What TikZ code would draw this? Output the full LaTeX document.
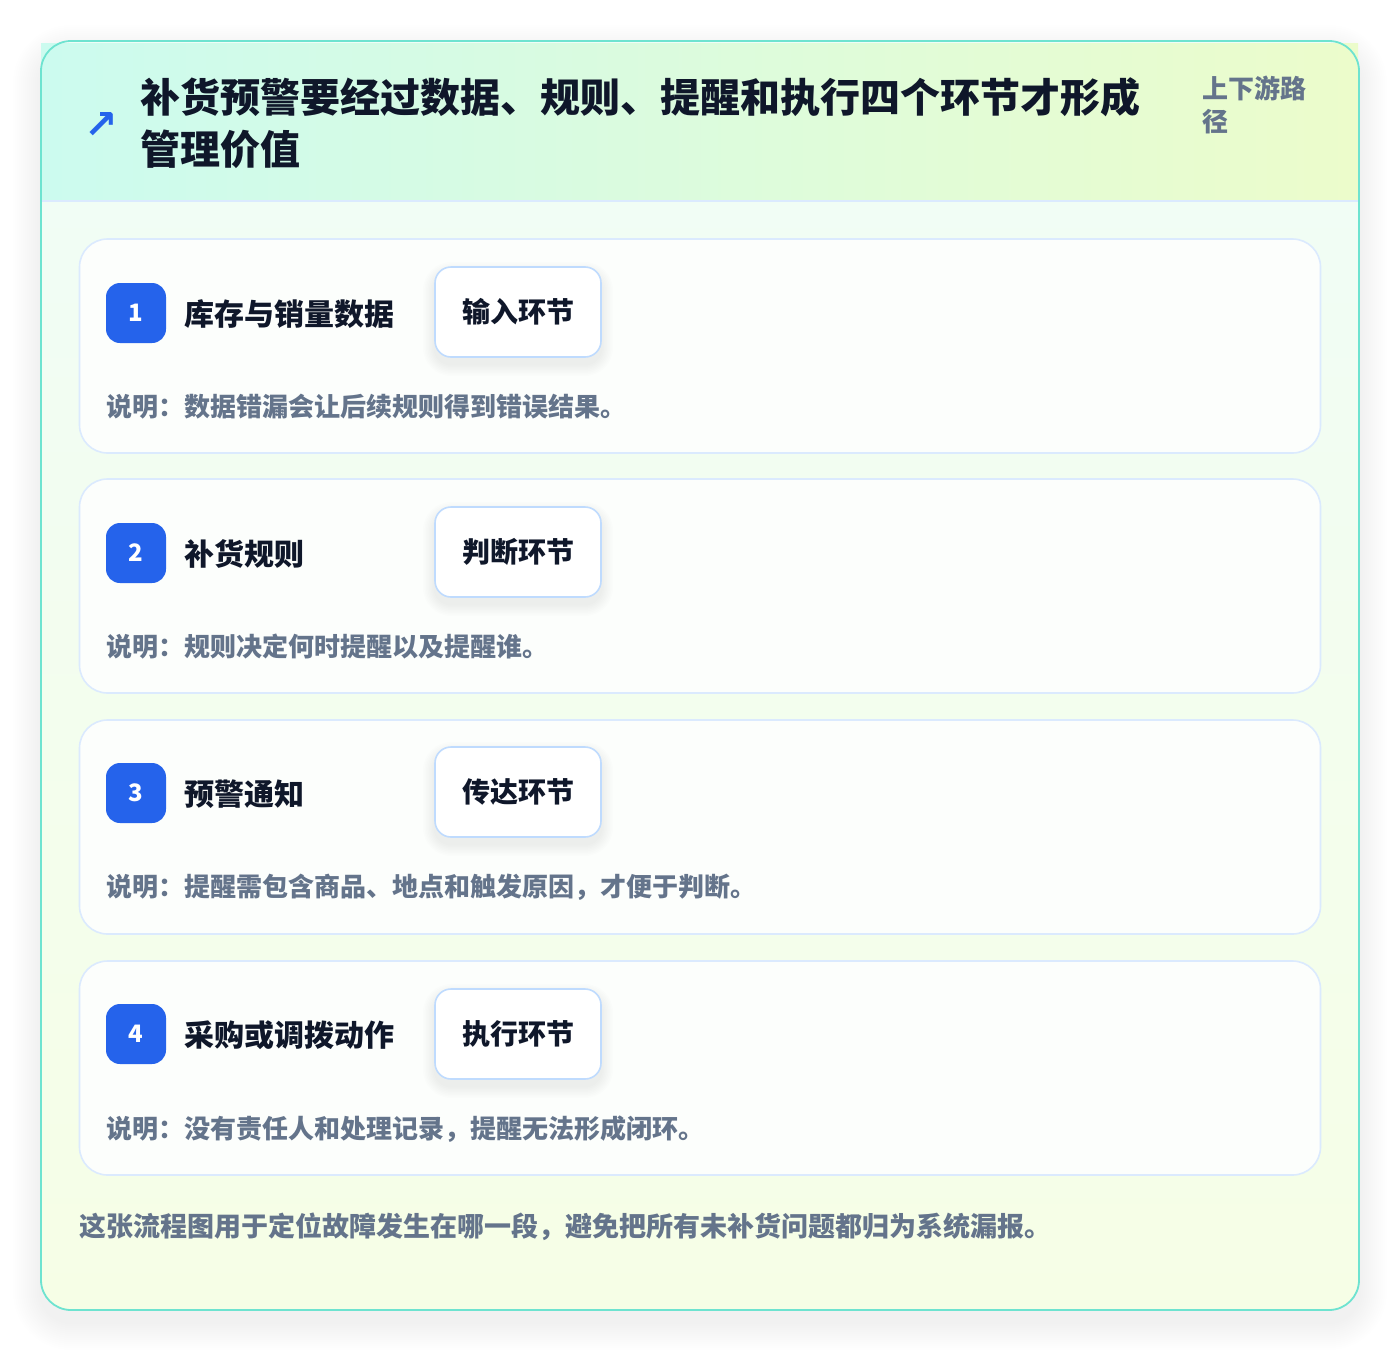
\documentclass[tikz,border=0pt]{standalone}
\usepackage{fontspec}
\setmainfont{Noto Sans CJK SC}
\newfontfamily\heavy{Noto Sans CJK SC Black}
\newfontfamily\symfont{DejaVu Sans}
\definecolor{teal}{HTML}{6EE3D0}
\definecolor{cardline}{HTML}{DBEAFE}
\definecolor{tagline}{HTML}{BFDBFE}
\definecolor{badgeblue}{HTML}{2563EB}
\definecolor{darktext}{HTML}{0F172A}
\definecolor{graytext}{HTML}{64748B}
\definecolor{headL}{HTML}{CCFBEF}
\definecolor{headR}{HTML}{ECFCCB}
\definecolor{bodyT}{HTML}{F0FDF7}
\definecolor{bodyB}{HTML}{F6FEE6}
\definecolor{cardfill}{HTML}{FCFEFC}
\tikzset{
  card/.style={draw=cardline, line width=1.6pt, fill=cardfill, rounded corners=28pt,
    minimum width=1241pt, minimum height=214pt, inner sep=0pt},
  badge/.style={fill=badgeblue, rounded corners=14pt, minimum width=60pt, minimum height=60pt,
    inner sep=0pt, text=white, font=\heavy\fontsize{24}{24}\selectfont},
  steptitle/.style={anchor=west, inner sep=0pt, text=darktext, font=\heavy\fontsize{30}{32}\selectfont},
  tag/.style={draw=tagline, line width=1.6pt, fill=white, rounded corners=16pt,
    minimum width=166pt, minimum height=90pt, inner sep=0pt, text=darktext,
    font=\heavy\fontsize{28}{30}\selectfont},
  desc/.style={anchor=west, inner sep=0pt, text=graytext, font=\fontsize{26}{28}\selectfont\bfseries},
}
\begin{document}
\begin{tikzpicture}[x=1pt, y=-1pt]
\useasboundingbox (0,0) rectangle (1400,1352);
\fill[white] (0,0) rectangle (1400,1352);
% outer card soft shadow
\foreach \i in {1,...,14}{
  \fill[black, fill opacity=0.005, rounded corners={30pt+2*\i pt}]
    ({41-2*\i},{53-2*\i}) rectangle ({1359+2*\i},{1322+2*\i});
}
% outer card
\path[top color=bodyT, bottom color=bodyB, rounded corners=30pt] (41,41) rectangle (1359,1310);
% header band
\shade[left color=headL, right color=headR] (41,43) rectangle (1358,201);
\draw[cardline, line width=1.4pt] (42,201) -- (1358,201);
\draw[teal, line width=1.8pt, rounded corners=30pt] (41,41) rectangle (1359,1310);
% header texts
\node[inner sep=0pt, text=badgeblue, font=\symfont\fontsize{40}{40}\selectfont\bfseries] (icon) at (101,125) {↗};
\node[anchor=north west, inner sep=0pt, align=left, text=darktext,
  font=\heavy\fontsize{40}{52}\selectfont] (title) at (140,77)
  {补货预警要经过数据、规则、提醒和执行四个环节才形成\\管理价值};
\node[anchor=north west, inner sep=0pt, align=left, text=graytext,
  font=\fontsize{26}{33}\selectfont\bfseries] (side) at (1202,76) {上下游路\\径};
% step cards
\node[card] (c1) at (700,346) {};
\node[card] (c2) at (700,586) {};
\node[card] (c3) at (700,827) {};
\node[card] (c4) at (700,1068) {};
% tag shadows
\foreach \y in {312,552,792,1034}{
  \foreach \i in {1,...,8}{
    \fill[black, fill opacity=0.008, rounded corners={16pt+1.5*\i pt}]
      ({435-1.5*\i},{\y-45+7-1.5*\i}) rectangle ({601+1.5*\i},{\y+45+7+1.5*\i});
  }
}

\node[badge] (b1) at (136,313) {1};
\node[steptitle] (t1) at (184,314) {库存与销量数据};
\node[tag] (g1) at (518,312) {输入环节};
\node[desc] (d1) at (106,407) {说明：数据错漏会让后续规则得到错误结果。};

\node[badge] (b2) at (136,553) {2};
\node[steptitle] (t2) at (184,554) {补货规则};
\node[tag] (g2) at (518,552) {判断环节};
\node[desc] (d2) at (106,647) {说明：规则决定何时提醒以及提醒谁。};

\node[badge] (b3) at (136,793) {3};
\node[steptitle] (t3) at (184,794) {预警通知};
\node[tag] (g3) at (518,792) {传达环节};
\node[desc] (d3) at (106,887) {说明：提醒需包含商品、地点和触发原因，才便于判断。};

\node[badge] (b4) at (136,1034) {4};
\node[steptitle] (t4) at (184,1035) {采购或调拨动作};
\node[tag] (g4) at (518,1034) {执行环节};
\node[desc] (d4) at (106,1129) {说明：没有责任人和处理记录，提醒无法形成闭环。};

\node[anchor=west, inner sep=0pt, text=graytext, font=\fontsize{27}{30}\selectfont\bfseries] (foot) at (79,1227)
  {这张流程图用于定位故障发生在哪一段，避免把所有未补货问题都归为系统漏报。};
\end{tikzpicture}
\end{document}
